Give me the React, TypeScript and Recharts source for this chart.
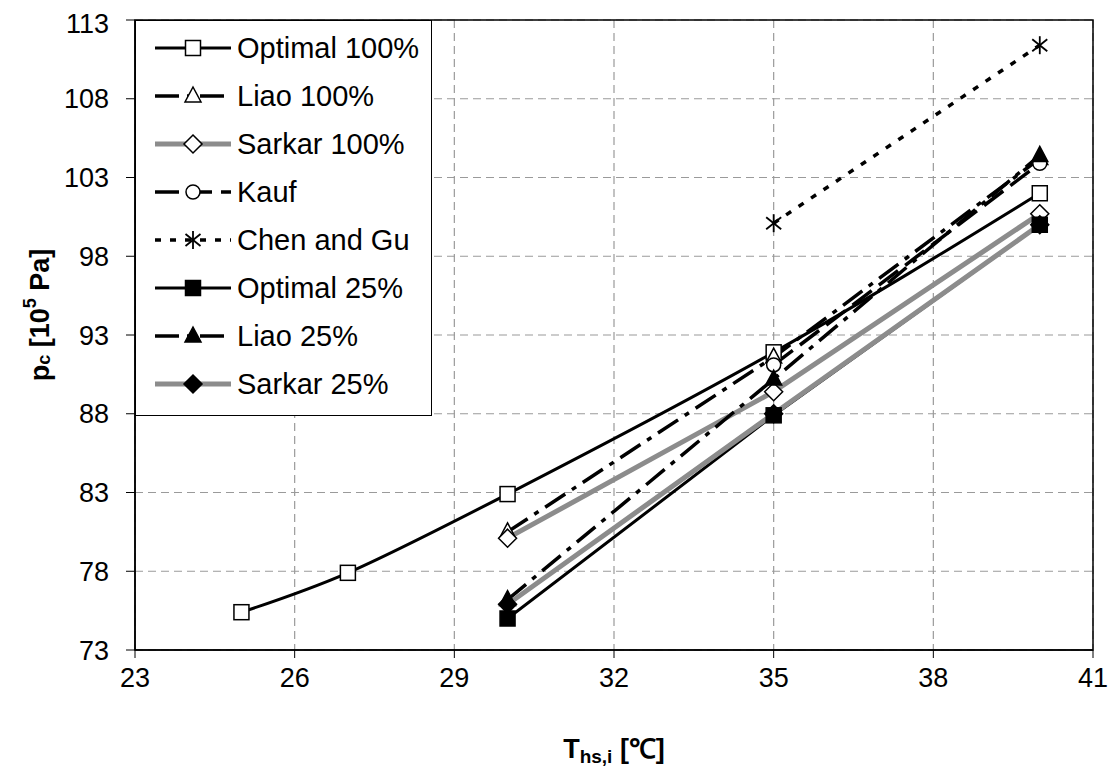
import { LineChart, Line, XAxis, YAxis, CartesianGrid, ReferenceArea } from "recharts";

// temperatures
const tempsOptimal100 = [25, 27, 30, 35, 40];
const temps = [30, 35, 40];
const tempsKauf = [35, 40];
const tempsChen = [35, 40];

// p_c values [10^5 Pa]
const optimal100 = [75.4, 77.9, 82.9, 91.9, 102.0];
const liao100 = [80.5, 91.6, 104.2];
const sarkar100 = [80.1, 89.4, 100.7];
const kauf = [91.1, 103.9];
const chenGu = [100.1, 111.4];
const optimal25 = [75.0, 87.9, 100.0];
const liao25 = [76.2, 90.2, 104.4];
const sarkar25 = [75.9, 88.0, 100.0];

const xTicks = [23, 26, 29, 32, 35, 38, 41];
const yTicks = [73, 78, 83, 88, 93, 98, 103, 108, 113];

const FONT = "'Liberation Sans', Arial, sans-serif";
const GRAY = "#8c8c8c";

type Shape =
  | "squareOpen"
  | "triangleOpen"
  | "diamondOpen"
  | "circleOpen"
  | "star"
  | "squareFilled"
  | "triangleFilled"
  | "diamondFilled";

const series = [
  { name: "Optimal 100%", xs: tempsOptimal100, ys: optimal100, shape: "squareOpen" as Shape, stroke: "#000", width: 3, dash: undefined as string | undefined, curve: "natural" },
  { name: "Liao 100%", xs: temps, ys: liao100, shape: "triangleOpen" as Shape, stroke: "#000", width: 3.5, dash: "24 8 5 8", curve: "linear" },
  { name: "Sarkar 100%", xs: temps, ys: sarkar100, shape: "diamondOpen" as Shape, stroke: GRAY, width: 5, dash: undefined, curve: "linear" },
  { name: "Kauf", xs: tempsKauf, ys: kauf, shape: "circleOpen" as Shape, stroke: "#000", width: 3.5, dash: "24 9", curve: "linear" },
  { name: "Chen and Gu", xs: tempsChen, ys: chenGu, shape: "star" as Shape, stroke: "#000", width: 3.5, dash: "6 9", curve: "linear" },
  { name: "Optimal 25%", xs: temps, ys: optimal25, shape: "squareFilled" as Shape, stroke: "#000", width: 3, dash: undefined, curve: "linear" },
  { name: "Liao 25%", xs: temps, ys: liao25, shape: "triangleFilled" as Shape, stroke: "#000", width: 3.5, dash: "24 8 5 8", curve: "linear" },
  { name: "Sarkar 25%", xs: temps, ys: sarkar25, shape: "diamondFilled" as Shape, stroke: GRAY, width: 5, dash: undefined, curve: "linear" },
];

function marker(shape: Shape, cx: number, cy: number) {
  const open = { fill: "#fff", stroke: "#000", strokeWidth: 1.5 };
  const solid = { fill: "#000", stroke: "#000", strokeWidth: 1.5 };
  switch (shape) {
    case "squareOpen":
      return <rect x={cx - 7.5} y={cy - 7.5} width={15} height={15} {...open} />;
    case "squareFilled":
      return <rect x={cx - 7.5} y={cy - 7.5} width={15} height={15} {...solid} />;
    case "triangleOpen":
      return <polygon points={`${cx},${cy - 9} ${cx + 8},${cy + 6} ${cx - 8},${cy + 6}`} {...open} />;
    case "triangleFilled":
      return <polygon points={`${cx},${cy - 9} ${cx + 8},${cy + 6} ${cx - 8},${cy + 6}`} {...solid} />;
    case "diamondOpen":
      return <polygon points={`${cx},${cy - 9} ${cx + 9},${cy} ${cx},${cy + 9} ${cx - 9},${cy}`} {...open} />;
    case "diamondFilled":
      return <polygon points={`${cx},${cy - 9} ${cx + 9},${cy} ${cx},${cy + 9} ${cx - 9},${cy}`} {...solid} />;
    case "circleOpen":
      return <circle cx={cx} cy={cy} r={7} {...open} />;
    case "star":
      return (
        <g stroke="#000" strokeWidth={1.8}>
          <line x1={cx} y1={cy - 9} x2={cx} y2={cy + 9} />
          <line x1={cx - 7.5} y1={cy - 6} x2={cx + 7.5} y2={cy + 6} />
          <line x1={cx - 7.5} y1={cy + 6} x2={cx + 7.5} y2={cy - 6} />
        </g>
      );
  }
}

function YTitle() {
  const x = 40 - 8;
  const y = 315 - 8;
  return (
    <text
      transform={`translate(${x},${y}) rotate(-90)`}
      textAnchor="middle"
      dominantBaseline="central"
      fontFamily={FONT}
      fontWeight="bold"
      fontSize={27}
      fill="#000"
    >
      p
      <tspan fontSize={18} dy={4}>c</tspan>
      <tspan dy={-4}> [10</tspan>
      <tspan fontSize={18} dy={-10}>5</tspan>
      <tspan dy={10}> Pa]</tspan>
    </text>
  );
}

function XTitle({ viewBox }: any) {
  const cx = viewBox.x + viewBox.width / 2;
  return (
    <text x={cx} y={758 - 8} textAnchor="middle" fontFamily={FONT} fontWeight="bold" fontSize={27} fill="#000">
      T
      <tspan fontSize={19} dy={5}>hs,i</tspan>
      <tspan dy={-5}> [℃]</tspan>
    </text>
  );
}

function LegendBox() {
  return (
    <div
      style={{
        position: "absolute",
        left: 127,
        top: 12,
        width: 297,
        height: 396,
        boxSizing: "border-box",
        border: "1.5px solid #000",
        background: "#fff",
        fontFamily: FONT,
        fontSize: 29,
      }}
    >
      {series.map((s, i) => (
        <div key={s.name} style={{ position: "absolute", left: 0, top: 3 + i * 48, height: 48, width: "100%" }}>
          <svg width={100} height={48} style={{ position: "absolute", left: 0, top: 0 }}>
            <line
              x1={19}
              y1={24}
              x2={95}
              y2={24}
              stroke={s.stroke}
              strokeWidth={s.width}
              strokeDasharray={s.dash}
            />
            {marker(s.shape, 57, 24)}
          </svg>
          <span style={{ position: "absolute", left: 101, top: 24, transform: "translateY(-50%)", whiteSpace: "nowrap", lineHeight: 1 }}>
            {s.name}
          </span>
        </div>
      ))}
    </div>
  );
}

export default function App() {
  return (
    <div style={{ position: "relative", width: 1100, height: 760 }}>
      <LineChart width={1100} height={760} margin={{ top: 12, right: 15, left: 0, bottom: 0 }}>
        <CartesianGrid stroke="#9a9a9a" strokeDasharray="8 5" strokeWidth={1.2} />
        <XAxis
          type="number"
          dataKey="t"
          domain={[23, 41]}
          ticks={xTicks}
          allowDataOverflow
          height={118}
          tickSize={8}
          tickMargin={10}
          axisLine={{ stroke: "#000", strokeWidth: 1.5 }}
          tickLine={{ stroke: "#000" }}
          tick={{ fill: "#000", fontSize: 27, fontFamily: FONT }}
          label={<XTitle />}
        />
        <YAxis
          type="number"
          dataKey="p"
          domain={[73, 113]}
          ticks={yTicks}
          allowDataOverflow
          width={127}
          tickSize={9}
          tickMargin={17}
          axisLine={{ stroke: "#000", strokeWidth: 1.5 }}
          tickLine={{ stroke: "#000" }}
          tick={{ fill: "#000", fontSize: 27, fontFamily: FONT }}
          label={<YTitle />}
        />
        <ReferenceArea x1={23} x2={41} y1={73} y2={113} fill="none" stroke="#000" strokeWidth={1.5} fillOpacity={0} />
        {series.map((s) => (
          <Line
            key={s.name}
            data={s.xs.map((t, i) => ({ t, p: s.ys[i] }))}
            dataKey="p"
            name={s.name}
            type={s.curve as any}
            stroke={s.stroke}
            strokeWidth={s.width}
            strokeDasharray={s.dash}
            isAnimationActive={false}
            activeDot={false}
            dot={(props: any) => (
              <g key={`${s.name}-${props.index}`}>{marker(s.shape, props.cx, props.cy)}</g>
            )}
          />
        ))}
      </LineChart>
      <LegendBox />
    </div>
  );
}
